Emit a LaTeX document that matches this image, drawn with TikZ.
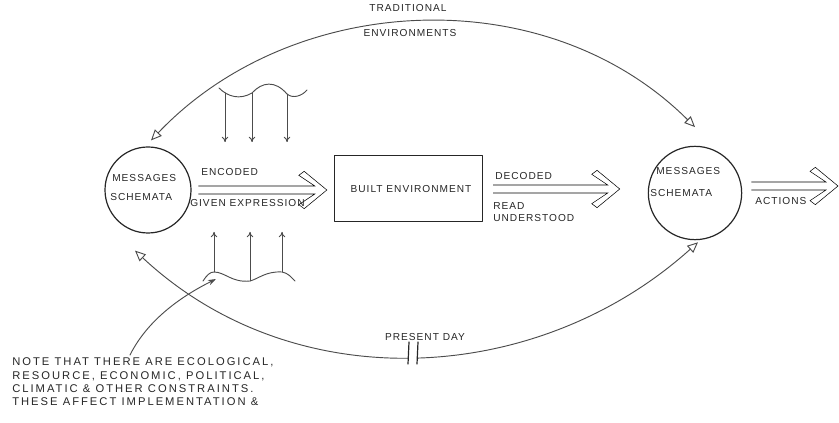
\documentclass[tikz,border=0pt]{standalone}
\usepackage{fontspec}
\newfontfamily\hand[LetterSpace=10]{Liberation Sans}
\newfontfamily\handw[LetterSpace=18]{Liberation Sans}
\usetikzlibrary{arrows.meta,calc}
\tikzset{
  ink/.style={draw=black!85, line width=0.9pt, line cap=round, line join=round},
  box ink/.style={draw=black!85, line width=0.75pt, line cap=round, line join=round},
  thin ink/.style={draw=black!70, line width=0.7pt, line cap=round},
  circ/.style={circle, ink, minimum size=#1, inner sep=0pt},
  bigbox/.style={rectangle, box ink, minimum width=111pt, minimum height=49.5pt, inner sep=0pt},
  lbl/.style={font=\hand\fontsize{7.6}{8}\selectfont, inner sep=0pt, text=black!85},
  note/.style={font=\handw\fontsize{8.4}{9}\selectfont, inner sep=0pt, text=black!85, anchor=west},
  hollow/.style={ink, to path={let \p1=(\tikztostart), \p2=(\tikztotarget) in
     (\x1,\y1+3pt) -- (\x2-9pt,\y1+3pt) -- (\x2-21pt,\y1+11pt) -- (\x2-17pt,\y1+14pt)
     -- (\x2,\y1) -- (\x2-17pt,\y1-14pt) -- (\x2-21pt,\y1-11pt) -- (\x2-9pt,\y1-3pt) -- (\x1,\y1-3pt)}},
  openhead/.style={thin ink, {Triangle[open,length=8pt,width=7pt]}-{Triangle[open,length=8pt,width=7pt]}},
  downarrow/.style={thin ink, -{To[length=4pt,width=5pt]}},
}
\begin{document}
\begin{tikzpicture}[x=0.75pt, y=-0.75pt]
\useasboundingbox (0,0) rectangle (839,423);

% main nodes
\node[circ=64.5pt] (lc) at (148,190) {};
\node[circ=70pt] (rc) at (695,193) {};
\node[bigbox] (box) at (408,189) {};

% texts inside
\node[lbl, anchor=west] (lc1) at (112,178) {MESSAGES};
\node[lbl, anchor=west] (lc2) at (110,197) {SCHEMATA};
\node[lbl] (bt) at (411,189) {BUILT ENVIRONMENT};
\node[lbl, anchor=west] (rc1) at (656,171) {MESSAGES};
\node[lbl, anchor=west] (rc2) at (650,193) {SCHEMATA};

% hollow arrows
\coordinate (actEnd) at (838,186);
\draw ([xshift=5pt]lc.east) to[hollow] ([xshift=-5pt]box.west);
\draw ([xshift=8pt]box.east) to[hollow] ([xshift=-21pt]rc.west);
\draw ([shift={(9,-7)}]rc.east) to[hollow] (actEnd);

% arrow labels
\node[lbl, anchor=west] (enc) at (201,172) {ENCODED};
\node[lbl, anchor=west] (giv) at (190,203) {GIVEN EXPRESSION};
\node[lbl, anchor=west] (dec) at (495,176) {DECODED};
\node[lbl, anchor=west] (rea) at (493,206) {READ};
\node[lbl, anchor=west] (und) at (493,218) {UNDERSTOOD};
\node[lbl, anchor=west] (act) at (755,201) {ACTIONS};

% top arc (traditional)
\coordinate (tl) at ([shift={(3,-6)}]lc.north);
\coordinate (tr) at ([yshift=14pt]rc.north);
\draw[openhead] (tl) .. controls (292,-8) and (545,-22) .. (tr);
\node[lbl] (trad) at (408,8) {TRADITIONAL};
\node[lbl] (envs) at (410,33) {ENVIRONMENTS};

% bottom arc (present day)
\coordinate (bl) at ([shift={(-13,17)}]lc.south);
\coordinate (br) at ([shift={(3,2)}]rc.south);
\draw[openhead] (bl) .. controls (295,400) and (538,386) .. (br);
\fill[white] (409,342) rectangle (417,364);
\draw[ink] (409,342) -- (408,364);
\draw[ink] (418,342) -- (417,364);
\node[lbl] (pd) at (425,337) {PRESENT DAY};

% top wave with arrows down
\coordinate (w1) at (225,93);
\coordinate (w2) at (252,93);
\coordinate (w3) at (287,94);
\draw[thin ink] (219,88) .. controls (228,97) and (240,100) .. (w2)
  .. controls (262,82) and (275,80) .. (w3) .. controls (293,99) and (302,96) .. (307,90);
\draw[downarrow] (w1) -- (225,142);
\draw[downarrow] (w2) -- (252,142);
\draw[downarrow] (w3) -- (287,142);

% bottom wave with arrows up
\coordinate (v1) at (214,272);
\coordinate (v2) at (250,281);
\coordinate (v3) at (282,272);
\draw[thin ink] (203,281) .. controls (207,275) and (210,272) .. (v1)
  .. controls (225,272) and (232,283) .. (v2) .. controls (258,279) and (266,271) .. (v3)
  .. controls (288,273) and (291,277) .. (295,281);
\draw[downarrow] (v1) -- (214,232);
\draw[downarrow] (v2) -- (250,232);
\draw[downarrow] (v3) -- (282,232);

% note
\coordinate (ns) at (130,355);
\draw[thin ink, -{Stealth[length=6pt,width=4pt]}] (ns) .. controls (150,315) and (190,292) .. (216,279);
\node[note] (n1) at (12,362) {NOTE THAT THERE ARE ECOLOGICAL,};
\node[note] (n2) at (12,376) {RESOURCE, ECONOMIC, POLITICAL,};
\node[note] (n3) at (12,389) {CLIMATIC \& OTHER CONSTRAINTS.};
\node[note] (n4) at (12,402) {THESE AFFECT IMPLEMENTATION \&};
\end{tikzpicture}
\end{document}
